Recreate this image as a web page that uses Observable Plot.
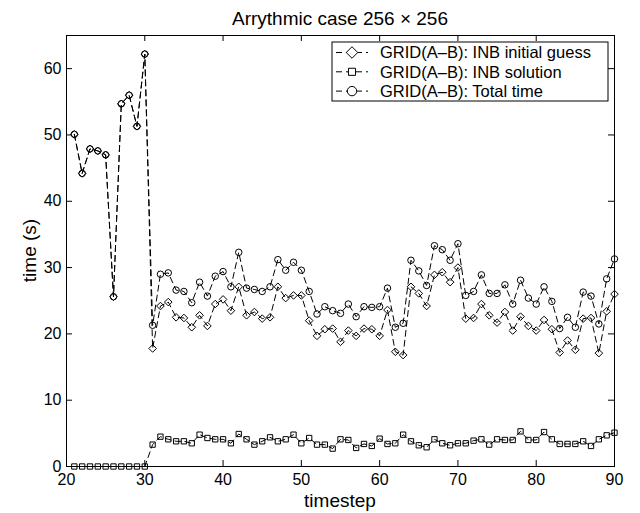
<!DOCTYPE html>
<html>
<head>
<meta charset="utf-8">
<script src="https://cdn.jsdelivr.net/npm/d3@7"></script>
<script src="https://cdn.jsdelivr.net/npm/@observablehq/plot@0.6"></script>
<style>
  html, body { margin: 0; padding: 0; background: white; }
  svg { display: block; }
</style>
</head>
<body>
<div id="chart"></div>
<script>
const titleText = "Arrythmic case 256 \u00d7 256";
const xLabel = "timestep";
const yLabel = "time (s)";
const seriesNames = ["GRID(A\u2013B): INB initial guess", "GRID(A\u2013B): INB solution", "GRID(A\u2013B): Total time"];
const seriesSymbols = ["diamond2", "square", "circle"];

const timesteps = [21,22,23,24,25,26,27,28,29,30,
  31,32,33,34,35,36,37,38,39,40,
  41,42,43,44,45,46,47,48,49,50,
  51,52,53,54,55,56,57,58,59,60,
  61,62,63,64,65,66,67,68,69,70,
  71,72,73,74,75,76,77,78,79,80,
  81,82,83,84,85,86,87,88,89,90];

const initialGuess = [50.1,44.2,47.9,47.6,47.0,25.6,54.7,56.0,51.3,62.2,
  17.8,24.2,24.8,22.5,22.4,21.0,22.8,21.2,24.5,25.2,
  23.5,27.1,22.8,23.3,22.3,22.5,27.1,25.4,25.8,25.8,
  22.0,19.7,20.7,20.8,18.8,20.5,19.7,20.8,20.7,19.7,
  23.6,17.3,16.8,27.1,26.1,24.2,28.9,29.3,27.8,30.0,
  22.3,22.4,24.5,22.8,21.7,23.3,20.5,22.6,21.2,20.5,
  22.1,20.7,17.2,19.0,17.6,22.3,22.4,17.1,23.4,26.0];

const solution = [0,0,0,0,0,0,0,0,0,0,
  3.3,4.5,4.1,3.8,3.8,3.5,4.8,4.3,4.1,4.1,
  3.5,4.9,4.1,3.3,3.8,4.4,3.8,4.1,4.8,3.5,
  4.3,3.3,3.3,2.7,4.1,4.0,2.8,3.4,3.1,4.2,
  3.4,3.5,4.8,3.8,3.2,2.9,4.1,3.5,3.2,3.5,
  3.5,3.9,4.1,3.3,4.1,4.0,4.0,5.3,4.0,4.0,
  5.2,4.1,3.4,3.4,3.4,3.8,3.1,4.1,4.7,5.1];

const totalTime = [50.1,44.2,47.9,47.6,47.0,25.6,54.7,56.0,51.3,62.2,
  21.3,29.0,29.2,26.6,26.4,24.7,27.8,25.7,28.7,29.4,
  27.1,32.3,26.9,26.7,26.4,27.1,31.2,29.6,30.8,29.6,
  26.4,23.0,24.1,23.5,23.1,24.5,22.6,24.1,24.0,24.1,
  26.9,21.0,21.6,31.1,29.5,27.3,33.3,32.7,31.1,33.6,
  25.8,26.4,28.9,26.1,26.1,27.4,24.5,28.1,25.4,24.5,
  27.1,24.9,20.8,22.5,21.0,26.3,25.7,21.5,28.3,31.3];

const xTicks = [20,30,40,50,60,70,80,90];
const yTicks = [0,10,20,30,40,50,60];

const seriesValues = [initialGuess, solution, totalTime];
const rows = [];
seriesValues.forEach((vals, s) => {
  vals.forEach((v, i) => rows.push({t: timesteps[i], v, series: seriesNames[s], symbol: seriesSymbols[s]}));
});

const W = 640, H = 513;
const mL = 66, mR = 26, mT = 35, mB = 47;
const innerW = W - mL - mR, innerH = H - mT - mB;
const tickLen = 6;
const font = "'Liberation Sans', Arial, Helvetica, sans-serif";
const rMap = {diamond2: 5.2, square: 4, circle: 4.7};

const svg = Plot.plot({
  width: W,
  height: H,
  marginLeft: mL,
  marginRight: mR,
  marginTop: mT,
  marginBottom: mB,
  style: {fontFamily: font, background: "white", color: "black"},
  x: {domain: [20, 90], ticks: xTicks},
  y: {domain: [0, 65], ticks: yTicks},
  marks: [
    Plot.line(rows, {x: "t", y: "v", z: "series", stroke: "black", strokeWidth: 1, strokeDasharray: "6,4"}),
    Plot.dot(rows, {x: "t", y: "v", symbol: "symbol", r: d => rMap[d.symbol], stroke: "black", strokeWidth: 1, fill: "none"}),
    Plot.frame({stroke: "black", strokeWidth: 1}),
    Plot.tickX(xTicks, {x: d => d, stroke: "black", insetTop: innerH - tickLen}),
    Plot.tickX(xTicks, {x: d => d, stroke: "black", insetBottom: innerH - tickLen}),
    Plot.tickY(yTicks, {y: d => d, stroke: "black", insetRight: innerW - tickLen}),
    Plot.tickY(yTicks, {y: d => d, stroke: "black", insetLeft: innerW - tickLen}),
    Plot.axisX(xTicks, {tickSize: 0, tickPadding: 7, fontSize: 16, label: null, fill: "black"}),
    Plot.axisY(yTicks, {tickSize: 0, tickPadding: 5, fontSize: 16, label: null, fill: "black"})
  ]
});

const root = d3.select(svg);
root.attr("font-family", font);

// title
root.append("text").attr("x", mL + innerW / 2).attr("y", 25)
  .attr("text-anchor", "middle").attr("font-size", 19).attr("fill", "black").text(titleText);
// x label
root.append("text").attr("x", mL + innerW / 2).attr("y", 507)
  .attr("text-anchor", "middle").attr("font-size", 19).attr("fill", "black").text(xLabel);
// y label
root.append("text").attr("transform", `translate(36,${mT + innerH / 2}) rotate(-90)`)
  .attr("text-anchor", "middle").attr("font-size", 19).attr("fill", "black").text(yLabel);

// legend
const lg = root.append("g");
const lx = 332, ly = 42, lw = 276, lh = 59;
lg.append("rect").attr("x", lx).attr("y", ly).attr("width", lw).attr("height", lh)
  .attr("fill", "white").attr("stroke", "black").attr("stroke-width", 1);
const symMap = {diamond2: d3.symbolDiamond2, square: d3.symbolSquare, circle: d3.symbolCircle};
seriesNames.forEach((name, i) => {
  const cy = ly + 10.5 + i * 19.3;
  lg.append("line").attr("x1", 336).attr("x2", 368).attr("y1", cy).attr("y2", cy)
    .attr("stroke", "black").attr("stroke-dasharray", "6,4");
  const s = seriesSymbols[i];
  lg.append("path").attr("d", d3.symbol(symMap[s], Math.PI * rMap[s] * rMap[s])())
    .attr("transform", `translate(352,${cy})`).attr("fill", "white").attr("stroke", "black");
  lg.append("text").attr("x", 380).attr("y", cy).attr("dy", "0.35em")
    .attr("text-anchor", "start")
    .attr("font-size", 16.5).attr("fill", "black").text(name);
});

document.getElementById("chart").appendChild(svg);
</script>
</body>
</html>
